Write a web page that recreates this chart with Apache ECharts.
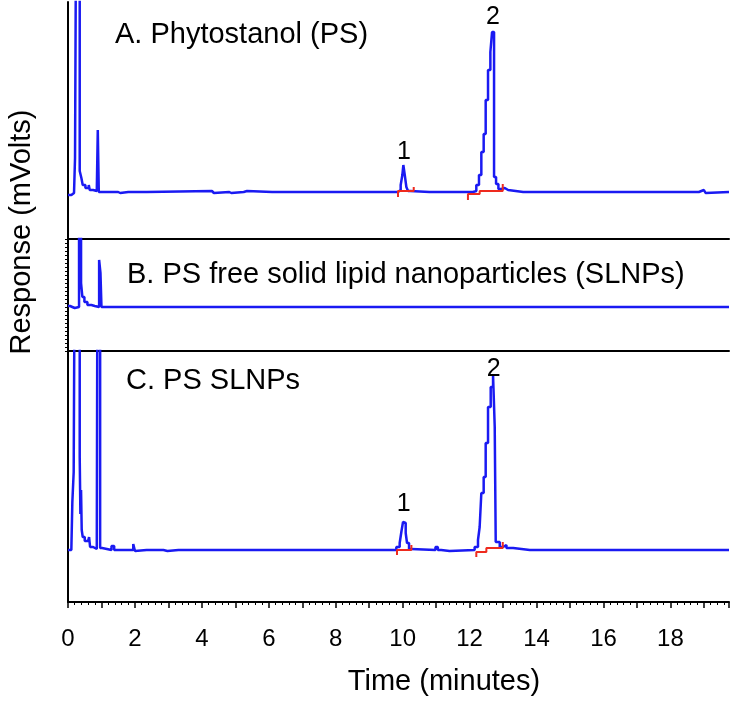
<!DOCTYPE html>
<html><head><meta charset="utf-8">
<script src="https://cdn.jsdelivr.net/npm/echarts@6/dist/echarts.min.js"></script>
<style>html,body{margin:0;padding:0;background:#fff}#c{width:735px;height:705px}</style>
</head><body><div id="c"></div><script>
// ---- Data (response in arbitrary mV units above each baseline) ----
const timeA = [0.00,0.10,0.18,0.21,0.26,0.35,0.40,0.44,0.52,0.62,0.65,0.75,0.86,0.89,0.92,1.50,1.56,1.80,1.85,2.35,4.30,4.36,4.82,4.88,5.25,5.35,6.10,6.15,7.30,7.35,8.60,8.65,9.86,9.94,9.99,10.02,10.07,10.11,10.16,10.22,10.80,10.85,11.50,11.55,12.10,12.20,12.28,12.35,12.42,12.48,12.55,12.62,12.67,12.73,12.79,12.86,12.95,13.05,13.15,13.60,13.65,14.30,14.35,15.10,15.15,15.30,15.35,15.70,15.75,16.20,16.25,16.80,16.85,17.70,17.75,18.10,18.15,18.85,19.00,19.05,19.10,19.75];
const respA = [-3,-1,1,34,420,21,14,7,4,7,2,1,0,62,0,-1,0,-1,0,1,-1,0,-1,0,1,0,-1,0,-1,0,-1,0,2,7,17,27,15,5,1,0,-1,0,-1,0,1,7,17,40,58,92,122,140,160,15,8,3,4,2,0,-1,0,-1,0,-1,0,-1,0,-1,0,-1,0,-1,0,-1,0,-1,0,2,1,-1,0,0];

const timeB = [0.00,0.06,0.20,0.33,0.39,0.43,0.49,0.58,0.70,0.80,0.93,0.97,1.00,1.40,1.45,2.00,2.05,2.55,2.60,3.10,3.15,3.80,3.85,4.30,4.35,5.05,5.10,5.60,5.65,6.25,6.30,7.00,7.05,7.75,7.80,8.40,8.45,9.15,9.20,9.75,9.80,10.50,10.55,11.25,11.30,11.90,11.95,12.65,12.70,13.30,13.35,14.05,14.10,14.70,14.75,15.45,15.50,16.05,16.10,16.80,16.85,17.50,17.55,18.20,18.25,18.95,19.00,19.55,19.60,19.75];
const respB = [1,-1,0,300,24,10,5,2,1,0,47,34,0,-1,0,-1,0,-1,0,-1,0,-1,0,-1,0,-1,0,-1,0,-1,0,-1,0,-1,0,-1,0,-1,0,-1,0,-1,0,-1,0,-1,0,-1,0,-1,0,-1,0,-1,0,-1,0,-1,0,-1,0,-1,0,-1,0,-1,0,-1,0,0];

const timeC = [0.00,0.10,0.13,0.17,0.22,0.35,0.37,0.39,0.41,0.44,0.50,0.60,0.63,0.66,0.75,0.86,0.89,0.96,1.02,1.30,1.38,1.95,2.00,2.05,2.35,2.40,2.85,2.97,3.30,3.35,3.80,3.85,4.50,4.55,5.40,5.45,5.90,5.95,6.70,6.75,7.40,7.45,8.20,8.25,8.90,8.95,9.81,9.91,9.96,10.01,10.06,10.09,10.13,10.19,10.25,10.98,11.05,11.15,11.40,12.15,12.25,12.30,12.35,12.42,12.48,12.55,12.63,12.70,12.75,12.78,12.90,13.00,13.10,13.30,13.80,13.85,14.60,14.65,15.30,15.35,16.10,16.15,16.90,16.95,17.60,17.65,18.40,18.45,19.20,19.25,19.75];
const respC = [0,1,48,78,450,93,36,60,20,13,9,8,13,3,1,0,450,2,0,4,0,6,-1,0,-1,0,-1,0,-1,0,-1,0,-1,0,-1,0,-1,0,-1,0,-1,0,-1,0,-1,0,3,7,18,28,27,17,7,1,0,3,0,-1,0,3,10,23,57,73,107,143,163,175,123,8,3,5,2,0,-1,0,-1,0,-1,0,-1,0,-1,0,-1,0,-1,0,-1,0,0];

// integration baselines (null = break)
const integTimeA = [9.86,9.86,10.33,10.33,null,11.95,11.95,12.30,12.30,12.99,12.99];
const integRespA = [-5,1,1,5,null,-8,-2,-2,1,1,8];
const integTimeC = [9.83,9.83,10.26,10.26,null,12.20,12.20,12.50,12.50,12.99,12.99];
const integRespC = [-5,0,0,5,null,-7,-2,-2,2,2,8];

// peak labels
const peakNames = ['1','2'];
const peakTimeA = [10.04,12.70], peakRespA = [27,160];
const peakTimeC = [10.03,12.72], peakRespC = [28,175];

const panelTitles = ['A. Phytostanol (PS)','B. PS free solid lipid nanoparticles (SLNPs)','C. PS SLNPs'];
const xTitle = 'Time (minutes)';
const yTitle = 'Response (mVolts)';
const xTickStep = 2;

// ---- Build ----
const FONT = '"Liberation Sans", Arial, Helvetica, sans-serif';
const BLUE = '#1a1af2';
const RED = '#ee2a1e';
const pairs = (t, v) => t.map((x, i) => (x === null ? [t[i-1], '-'] : [x, v[i]]));

const chart = echarts.init(document.getElementById('c'), null, {renderer: 'canvas'});

const baseX = (gi) => ({
  type: 'value', gridIndex: gi, min: 0, max: 19.75,
  splitLine: {show: false},
  axisLine: {show: true, onZero: false, lineStyle: {color: '#000', width: 2}},
  axisTick: {show: false}, axisLabel: {show: false}, minorTick: {show: false}
});
const xC = baseX(2);
xC.interval = 1;
xC.axisTick = {show: true, length: 6, lineStyle: {color: '#000', width: 1.5}};
xC.minorTick = {show: true, splitNumber: 5, length: 3, lineStyle: {color: '#000', width: 1}};
xC.axisLabel = {show: true, showMaxLabel: false, color: '#000', fontSize: 24, fontFamily: FONT, margin: 25,
  formatter: v => (Math.abs(v % xTickStep) < 1e-9 ? String(v) : '')};

const baseY = (gi, mn, mx) => ({
  type: 'value', gridIndex: gi, min: mn, max: mx,
  splitLine: {show: false},
  axisLine: {show: true, onZero: false, lineStyle: {color: '#000', width: 2}},
  axisTick: {show: false}, axisLabel: {show: false}
});
const yB = baseY(1, -44, 68);
yB.interval = 4;
yB.axisTick = {show: true, length: 3, lineStyle: {color: '#000', width: 1}};

const mp = (names, ts, vs, dists) => ({
  symbol: 'circle', symbolSize: 1, itemStyle: {color: 'rgba(0,0,0,0)'},
  data: names.map((n, i) => ({coord: [ts[i], vs[i]], label: {show: true, formatter: n, position: 'top', distance: dists[i],
    color: '#000', fontSize: 25, fontFamily: FONT}}))
});

const blueLine = (gi, data, markPoint) => ({
  type: 'line', xAxisIndex: gi, yAxisIndex: gi, data, step: 'end', showSymbol: false, symbol: 'none',
  lineStyle: {color: BLUE, width: 2.5}, clip: true, z: 2, markPoint
});
const redLine = (gi, data) => ({
  type: 'line', xAxisIndex: gi, yAxisIndex: gi, data, showSymbol: false, symbol: 'none',
  lineStyle: {color: RED, width: 2}, clip: true, z: 3, connectNulls: false
});

chart.setOption({
  animation: false,
  backgroundColor: '#fff',
  grid: [
    {left: 68, right: 6, top: 2, height: 237},
    {left: 68, right: 6, top: 239, height: 112},
    {left: 68, right: 6, top: 351, height: 251}
  ],
  xAxis: [baseX(0), baseX(1), xC],
  yAxis: [baseY(0, -47, 190), yB, baseY(2, -52, 199)],
  series: [
    blueLine(0, pairs(timeA, respA), mp(peakNames, peakTimeA, peakRespA, [0, 2])),
    blueLine(1, pairs(timeB, respB)),
    blueLine(2, pairs(timeC, respC), mp(peakNames, peakTimeC, peakRespC, [5, -7])),
    redLine(0, pairs(integTimeA, integRespA)),
    redLine(2, pairs(integTimeC, integRespC))
  ],
  graphic: [
    {type: 'text', x: 115, y: 35, style: {text: panelTitles[0], fill: '#000', font: '29px ' + FONT, textVerticalAlign: 'middle'}},
    {type: 'text', x: 127, y: 275, style: {text: panelTitles[1], fill: '#000', font: '29px ' + FONT, textVerticalAlign: 'middle'}},
    {type: 'text', x: 126, y: 381, style: {text: panelTitles[2], fill: '#000', font: '29px ' + FONT, textVerticalAlign: 'middle'}},
    {type: 'text', x: 444, y: 682, style: {text: xTitle, fill: '#000', font: '29px ' + FONT, textAlign: 'center', textVerticalAlign: 'middle'}},
    {type: 'text', x: 22, y: 232, rotation: Math.PI / 2, style: {text: yTitle, fill: '#000', font: '29px ' + FONT, textAlign: 'center', textVerticalAlign: 'middle'}}
  ]
});
</script></body></html>
